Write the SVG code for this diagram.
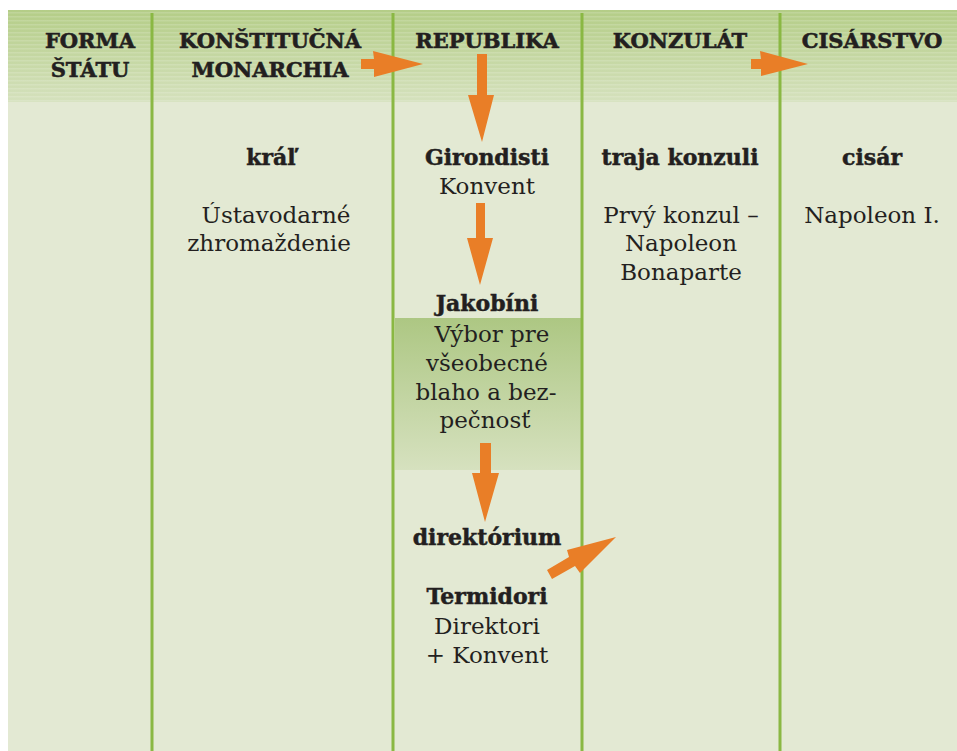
<svg xmlns="http://www.w3.org/2000/svg" width="957" height="751" viewBox="0 0 957 751">
<style>
.h{font-family:"DejaVu Serif",serif;font-weight:bold;font-size:21px;fill:#231f20;stroke:#231f20;stroke-width:0.6;text-anchor:middle}
.b{font-family:"DejaVu Serif",serif;font-weight:bold;font-size:22px;fill:#231f20;stroke:#231f20;stroke-width:0.5;text-anchor:middle}
.t{font-family:"DejaVu Serif",serif;font-size:23px;fill:#231f20;text-anchor:middle}
.col{stroke:#8ab843;stroke-width:3}
.arr{fill:#e97e27}
</style>
<defs>
<linearGradient id="hg" x1="0" y1="0" x2="0" y2="1">
<stop offset="0" stop-color="#b4cd87"/>
<stop offset="1" stop-color="#d5e1bd"/>
</linearGradient>
<linearGradient id="vg" x1="0" y1="0" x2="0" y2="1">
<stop offset="0" stop-color="#adc783"/>
<stop offset="1" stop-color="#d6e1bf"/>
</linearGradient>
<pattern id="stripes" width="10" height="4" patternUnits="userSpaceOnUse">
<rect x="0" y="0" width="10" height="1.5" fill="#ffffff" fill-opacity="0.15"/>
</pattern>
</defs>
<rect x="0" y="0" width="957" height="751" fill="#ffffff"/>
<rect x="8" y="10" width="949" height="741" fill="#e3e9d3"/>
<rect x="8" y="10" width="949" height="92" fill="url(#hg)"/>
<rect x="8" y="10" width="949" height="92" fill="url(#stripes)"/>
<rect x="395" y="318" width="186" height="152" fill="url(#vg)"/>
<g id="columns">
<line class="col" x1="152" y1="13" x2="152" y2="751"/>
<line class="col" x1="393" y1="13" x2="393" y2="751"/>
<line class="col" x1="582" y1="13" x2="582" y2="751"/>
<line class="col" x1="780" y1="13" x2="780" y2="751"/>
</g>
<g id="header-forma"><text class="h" x="90" y="48">FORMA</text><text class="h" x="90" y="77">ŠTÁTU</text></g>
<g id="header-monarchia"><text class="h" x="270" y="48">KONŠTITUČNÁ</text><text class="h" x="270" y="77">MONARCHIA</text></g>
<g id="header-republika"><text class="h" x="487" y="48">REPUBLIKA</text></g>
<g id="header-konzulat"><text class="h" x="680" y="48">KONZULÁT</text></g>
<g id="header-cisarstvo"><text class="h" x="872" y="48">CISÁRSTVO</text></g>
<g id="node-kral"><text class="b" x="271" y="165">kráľ</text><text class="t" x="276" y="223">Ústavodarné</text><text class="t" x="269" y="251">zhromaždenie</text></g>
<g id="node-girondisti"><text class="b" x="487" y="165">Girondisti</text><text class="t" x="487" y="194">Konvent</text></g>
<g id="node-jakobini"><text class="b" x="487" y="311">Jakobíni</text><text class="t" x="492" y="342">Výbor pre</text><text class="t" x="487" y="371">všeobecné</text><text class="t" x="486" y="400">blaho a bez-</text><text class="t" x="485" y="428">pečnosť</text></g>
<g id="node-direktorium"><text class="b" x="487" y="545">direktórium</text></g>
<g id="node-termidori"><text class="b" x="487" y="604">Termidori</text><text class="t" x="487" y="634">Direktori</text><text class="t" x="487" y="663">+ Konvent</text></g>
<g id="node-konzuli"><text class="b" x="680" y="165">traja konzuli</text><text class="t" x="681" y="223">Prvý konzul –</text><text class="t" x="681" y="251">Napoleon</text><text class="t" x="681" y="280">Bonaparte</text></g>
<g id="node-cisar"><text class="b" x="872" y="165">cisár</text><text class="t" x="872" y="223">Napoleon I.</text></g>
<g id="connectors">
<polygon class="arr" points="361,59 374,59 373,51 423,64 374,77 374,69 361,69"/>
<polygon class="arr" points="751,59 761,59 760,51 808,64 761,76 761,69 751,69"/>
<polygon class="arr" points="477,54 487,54 487,95 494,95 482,142 468,95 477,95"/>
<polygon class="arr" points="476,203 485,203 485,238 493,238 480,285 467,238 476,238"/>
<polygon class="arr" points="480,443 491,443 491,473 499,473 485,522 472,473 480,473"/>
<polygon class="arr" points="547,570 569,557 567,550 616,537 580,573 575,566 552,579"/>
</g>
</svg>
